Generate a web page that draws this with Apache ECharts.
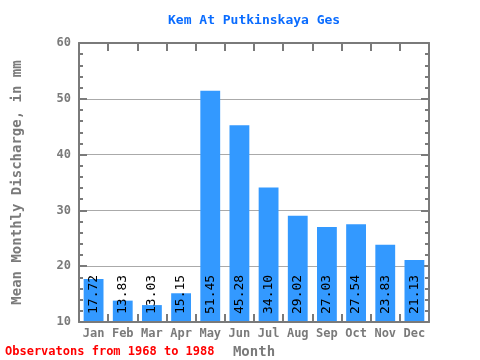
<!DOCTYPE html>
<html><head><meta charset="utf-8">
<script src="https://cdn.jsdelivr.net/npm/echarts@6/dist/echarts.min.js"></script>
<style>html,body{margin:0;padding:0;background:#fff}#c{width:480px;height:360px}</style>
</head><body><div id="c"></div>
<script>
const categories = ['Jan','Feb','Mar','Apr','May','Jun','Jul','Aug','Sep','Oct','Nov','Dec'];
const discharge = [17.72, 13.83, 13.03, 15.15, 51.45, 45.28, 34.10, 29.02, 27.03, 27.54, 23.83, 21.13];
const titleText = 'Kem At Putkinskaya Ges';
const yName = 'Mean Monthly Discharge, in mm';
const xName = 'Month';
const footer = 'Observatons from 1968 to 1988';

const mono = '"DejaVu Sans Mono", "Liberation Mono", monospace';
const gray = '#7a7a7a';
const chart = echarts.init(document.getElementById('c'), null, {renderer:'canvas'});
chart.setOption({
  animation: false,
  title: {text: titleText, left: 163, top: 9,
    textStyle: {color:'#0a6cff', fontFamily: mono, fontWeight:'bold', fontSize: 13}},
  graphic: [{type:'text', left: 5, top: 346, z: 10,
    style:{text: footer, fill:'#ff0000', font: 'bold 12px ' + mono}}],
  grid: {left: 79, right: 51, top: 43, bottom: 38, show: false, containLabel: false, outerBoundsMode: 'none'},
  xAxis: [{
    type:'category', data: categories, position:'bottom',
    name: xName, nameLocation:'middle', nameGap: 16,
    nameTextStyle:{color: gray, fontFamily: mono, fontWeight:'bold', fontSize: 14},
    axisLine:{show:true, lineStyle:{color: gray, width: 2}},
    axisTick:{show:true, inside:true, interval: 0, length: 8, lineStyle:{color: gray, width: 2}},
    axisLabel:{interval: 0, color: gray, fontFamily: mono, fontWeight:'bold', fontSize: 12, margin: 6},
    splitLine:{show:false}, z: 5
  },{
    type:'category', data: categories, position:'top',
    axisLine:{show:true, lineStyle:{color: gray, width: 2}},
    axisTick:{show:true, inside:true, interval: 0, length: 8, lineStyle:{color: gray, width: 2}},
    axisLabel:{show:false}, splitLine:{show:false}
  }],
  yAxis: [{
    type:'value', min: 10, max: 60, interval: 10, position:'left',
    name: yName, nameLocation:'middle', nameGap: 55,
    nameTextStyle:{color: gray, fontFamily: mono, fontWeight:'bold', fontSize: 14},
    axisLine:{show:true, lineStyle:{color: gray, width: 2}},
    axisTick:{show:true, inside:true, length: 8, lineStyle:{color: gray, width: 2}},
    minorTick:{show:true, splitNumber: 5, length: 4, lineStyle:{color: gray, width: 2}},
    axisLabel:{color: gray, fontFamily: mono, fontWeight:'bold', fontSize: 12, margin: 8},
    splitLine:{show:true, lineStyle:{color:'#aaaaaa', width: 1}}
  },{
    type:'value', min: 10, max: 60, interval: 10, position:'right',
    axisLine:{show:true, lineStyle:{color: gray, width: 2}},
    axisTick:{show:true, inside:true, length: 8, lineStyle:{color: gray, width: 2}},
    minorTick:{show:true, splitNumber: 5, length: 4, lineStyle:{color: gray, width: 2}},
    axisLabel:{show:false}, splitLine:{show:false}
  }],
  series: [{
    type:'bar', data: discharge, barWidth: '68%',
    itemStyle:{color:'#3399ff'},
    label:{show:true, position:'insideBottom', distance: 8, rotate: 90,
      align:'left', verticalAlign:'middle',
      formatter: p => p.value.toFixed(2),
      color:'#000', fontFamily: mono, fontSize: 13}
  }]
});
</script></body></html>
